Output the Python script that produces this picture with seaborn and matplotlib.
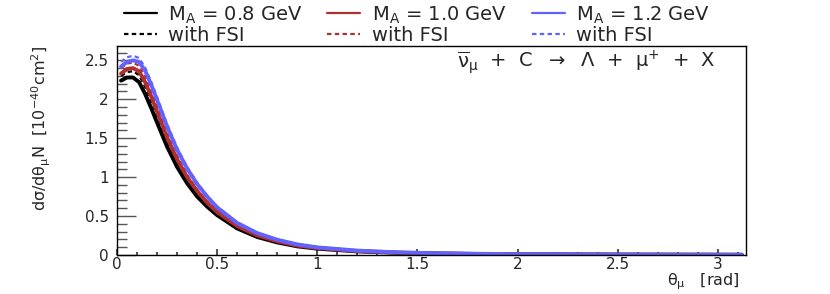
import pandas as pd
import matplotlib.pyplot as plt
import seaborn as sns
from matplotlib.lines import Line2D
from matplotlib.ticker import MultipleLocator

# theta_mu grid (rad) and curves
theta = [0.02, 0.05, 0.08, 0.11, 0.14, 0.17, 0.2, 0.25, 0.3, 0.35, 0.4, 0.45, 0.5,
         0.6, 0.7, 0.8, 0.9, 1.0, 1.2, 1.4, 1.6, 1.8, 2.0, 2.4, 2.8, 3.12]

ma08 = [2.24, 2.28, 2.28, 2.22, 2.07, 1.89, 1.70, 1.39, 1.13, 0.92, 0.75, 0.62, 0.51,
        0.34, 0.23, 0.16, 0.11, 0.08, 0.045, 0.027, 0.017, 0.011, 0.008, 0.004, 0.002, 0.001]
ma08_fsi = [2.30, 2.35, 2.36, 2.31, 2.16, 1.97, 1.77, 1.45, 1.18, 0.96, 0.78, 0.64, 0.53,
            0.35, 0.24, 0.165, 0.115, 0.082, 0.046, 0.028, 0.017, 0.011, 0.008, 0.004, 0.002, 0.001]
ma10 = [2.33, 2.39, 2.40, 2.36, 2.22, 2.04, 1.84, 1.51, 1.23, 1.00, 0.82, 0.67, 0.55,
        0.37, 0.25, 0.175, 0.12, 0.088, 0.05, 0.03, 0.019, 0.012, 0.009, 0.0045, 0.0025, 0.0015]
ma10_fsi = [2.40, 2.46, 2.47, 2.43, 2.29, 2.10, 1.90, 1.56, 1.27, 1.03, 0.84, 0.69, 0.57,
            0.38, 0.26, 0.18, 0.125, 0.09, 0.051, 0.031, 0.019, 0.012, 0.009, 0.0045, 0.0025, 0.0015]
ma12 = [2.42, 2.48, 2.50, 2.48, 2.37, 2.19, 1.99, 1.65, 1.35, 1.11, 0.91, 0.75, 0.61,
        0.41, 0.28, 0.195, 0.135, 0.097, 0.055, 0.033, 0.021, 0.014, 0.01, 0.005, 0.003, 0.002]
ma12_fsi = [2.48, 2.54, 2.56, 2.53, 2.41, 2.23, 2.03, 1.68, 1.38, 1.13, 0.93, 0.76, 0.62,
            0.42, 0.285, 0.2, 0.14, 0.1, 0.056, 0.034, 0.021, 0.014, 0.01, 0.005, 0.003, 0.002]

labels = ['$M_A$ = 0.8 GeV', '$M_A$ = 1.0 GeV', '$M_A$ = 1.2 GeV']
colors = ['black', '#b03030', '#6262ff']

sns.set_style('ticks')
plt.rcParams['font.family'] = ['DejaVu Sans']
plt.rcParams['mathtext.default'] = 'regular'

fig = plt.figure(figsize=(8.3, 2.94), dpi=100)
ax = fig.add_axes([0.141, 0.133, 0.758, 0.712])

series = [(ma08, ma08_fsi), (ma10, ma10_fsi), (ma12, ma12_fsi)]
handles = []
for (plain, fsi), lab, col in zip(series, labels, colors):
    sns.lineplot(x=theta, y=plain, ax=ax, color=col, lw=2.8)
    sns.lineplot(x=theta, y=fsi, ax=ax, color=col, lw=1.6, dashes=False,
                 linestyle=(0, (2, 1.5)))
    handles.append(Line2D([], [], color=col, lw=1.6))
    handles.append(Line2D([], [], color=col, lw=1.6, linestyle=(0, (2, 1.5))))

leg_labels = [labels[0], 'with FSI', labels[1], 'with FSI', labels[2], 'with FSI']
fig.legend(handles, leg_labels, ncol=3, frameon=False, fontsize=14,
           loc='upper left', bbox_to_anchor=(0.128, 1.045),
           handlelength=1.7, handletextpad=0.6, columnspacing=1.25,
           labelspacing=0.0)

ax.set_xlim(0, 3.1416)
ax.set_ylim(0, 2.69)
ax.xaxis.set_major_locator(MultipleLocator(0.5))
ax.xaxis.set_minor_locator(MultipleLocator(0.1))
ax.yaxis.set_major_locator(MultipleLocator(0.5))
ax.yaxis.set_minor_locator(MultipleLocator(0.1))
ax.xaxis.set_major_formatter(plt.FuncFormatter(lambda v, p: f'{v:g}'))
ax.yaxis.set_major_formatter(plt.FuncFormatter(lambda v, p: f'{v:g}'))
ax.tick_params(axis='both', which='both', direction='in', top=False, right=False,
               labelsize=11, color='#555555')
ax.tick_params(axis='y', which='major', length=14, width=1, pad=6)
ax.tick_params(axis='y', which='minor', length=7, width=1)
ax.tick_params(axis='x', which='major', length=4, width=1.5, pad=1.5)
ax.tick_params(axis='x', which='minor', length=2.5, width=1.5)
for s in ax.spines.values():
    s.set_color('black')
    s.set_linewidth(1)

ax.set_ylabel(r'd$\sigma$/d$\theta_{\mu}$N  [10$^{-40}$cm$^{2}$]', fontsize=11.5, loc='top')
ax.yaxis.set_label_coords(-0.102, 1.0)
ax.set_xlabel(r'$\theta_{\mu}$   [rad]', fontsize=11.5, loc='right')
ax.xaxis.set_label_coords(0.99, -0.078)

ax.text(0.746, 0.922,
        r'$\overline{\nu}_{\mu}$  +  C  $\rightarrow$  $\Lambda$  +  $\mu^{+}$  +  X',
        transform=ax.transAxes, ha='center', va='center', fontsize=14)

plt.savefig('out.png', dpi=100)
